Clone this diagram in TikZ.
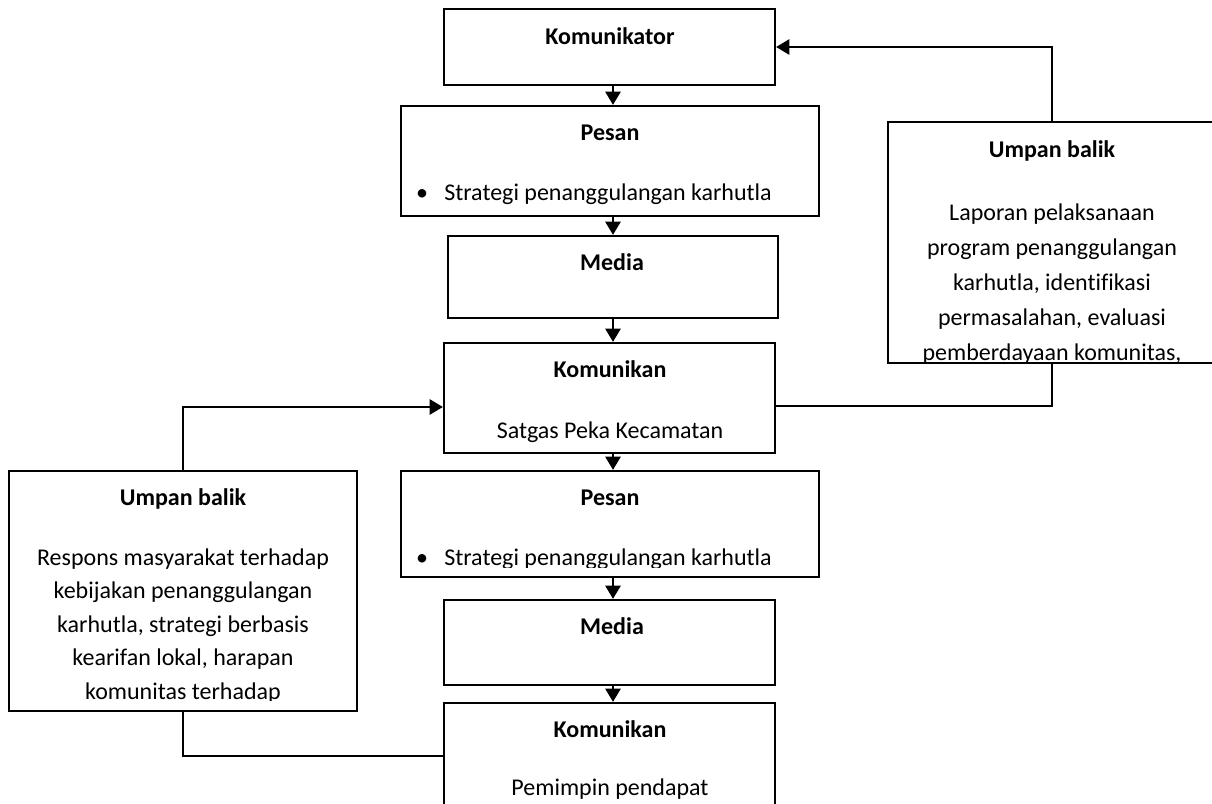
\documentclass[tikz,border=0pt]{standalone}
\usepackage{fontspec}
\setmainfont{Carlito}[Ligatures=NoCommon]
\usetikzlibrary{arrows.meta,fit}

\begin{document}
\begin{tikzpicture}[
  x=0.75pt, y={(0pt,-0.75pt)},
  font=\fontsize{18}{22}\selectfont,
  blk/.style={draw, line width=1.7pt, inner sep=0pt, rectangle},
  con/.style={line width=1.6pt},
  arr/.style={line width=1.6pt, -{Triangle[width=11.5pt,length=10pt]}},
  hd/.style={font=\fontsize{18}{22}\selectfont\bfseries, anchor=base, inner sep=0pt},
  tx/.style={anchor=base, inner sep=0pt},
]
\clip (0,0) rectangle (1212,803);
\fill[white] (0,0) rectangle (1212,803);

% boxes
\node[blk, fit={(444,9) (775,85)}]    (kom)  {};
\node[blk, fit={(401,106) (819,216)}] (pes1) {};
\node[blk, fit={(448,236) (778,318)}] (med1) {};
\node[blk, fit={(444,343) (775,453)}] (kmk1) {};
\node[blk, fit={(401,471) (819,577)}] (pes2) {};
\node[blk, fit={(444,600) (775,685)}] (med2) {};
\node[blk, fit={(444,703) (775,840)}] (kmk2) {};
\node[blk, fit={(9,471) (357,711)}]   (ubl)  {};
\node[blk, fit={(888,122) (1216,363)}] (ubr) {};

% main column arrows
\coordinate (colx) at (613,0);
\draw[arr] (kom.south -| colx)  -- (pes1.north -| colx);
\draw[arr] (pes1.south -| colx) -- (med1.north -| colx);
\draw[arr] (med1.south -| colx) -- (kmk1.north -| colx);
\draw[arr] (kmk1.south -| colx) -- (pes2.north -| colx);
\draw[arr] (pes2.south -| colx) -- (med2.north -| colx);
\draw[arr] (med2.south -| colx) -- (kmk2.north -| colx);

% feedback loops
\draw[con] (kmk1.east |- 0,406) -| (ubr.south);
\draw[arr] (ubr.north) |- (kom.east);
\draw[arr] (ubl.north) |- (kmk1.west |- 0,407);
\draw[con] (ubl.south) |- (kmk2.west |- 0,756);

% texts of the main column
\node[hd] (t-kom) at (610,44) {Komunikator};
\node[hd] (t-pes1) at (610,140) {Pesan};
\node[tx] (b-pes1) at (422,200) {•};
\node[tx, anchor=base west] (s-pes1) at (444,200) {Strategi penanggulangan karhutla};
\node[hd] (t-med1) at (612,270) {Media};
\node[hd] (t-kmk1) at (610,377) {Komunikan};
\node[tx] (s-kmk1) at (610,438) {Satgas Peka Kecamatan};
\node[hd] (t-pes2) at (610,505) {Pesan};
\begin{scope}
  \clip (401,471) rectangle (819,567);
  \node[tx] (b-pes2) at (422,565) {•};
  \node[tx, anchor=base west] (s-pes2) at (444,565) {Strategi penanggulangan karhutla};
\end{scope}
\node[hd] (t-med2) at (612,634) {Media};
\node[hd] (t-kmk2) at (610,737) {Komunikan};
\begin{scope}
  \clip (444,703) rectangle (775,798);
  \node[tx] (s-kmk2) at (610,795) {Pemimpin pendapat};
\end{scope}

% right feedback text
\node[hd] (t-ubr) at (1052,157) {Umpan balik};
\begin{scope}
  \clip (888,122) rectangle (1216,362);
  \foreach \t [count=\i from 0] in {Laporan pelaksanaan, program penanggulangan,
      {karhutla, identifikasi}, {permasalahan, evaluasi}, {pemberdayaan komunitas,}}
    \node[tx] (l-ubr-\i) at (1052,220+35*\i) {\t};
\end{scope}

% left feedback text
\node[hd] (t-ubl) at (183,505) {Umpan balik};
\begin{scope}
  \clip (9,471) rectangle (357,700);
  \foreach \t [count=\i from 0] in {Respons masyarakat terhadap, kebijakan penanggulangan,
      {karhutla, strategi berbasis}, {kearifan lokal, harapan}, komunitas terhadap}
    \node[tx] (l-ubl-\i) at (183,565+33.5*\i) {\t};
\end{scope}
\end{tikzpicture}
\end{document}
